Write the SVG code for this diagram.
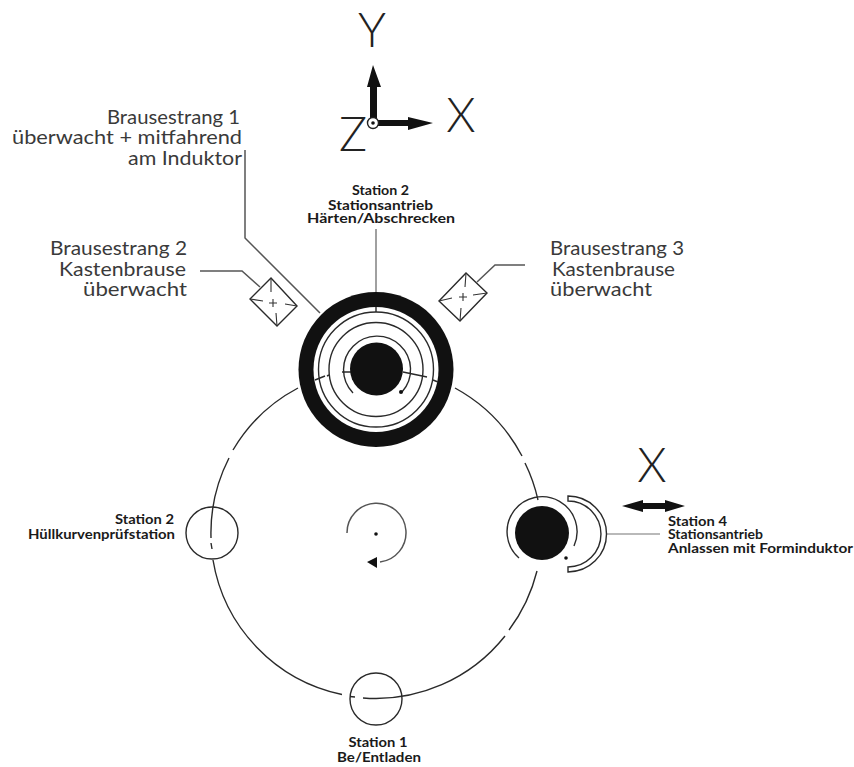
<svg xmlns="http://www.w3.org/2000/svg" width="854" height="767" viewBox="0 0 854 767">
<defs><style>
text{font-family:"Lato","Liberation Sans",sans-serif;fill:#3a3a3a}
.n{font-size:19px;text-anchor:end}
.s{text-anchor:start}
.b{font-size:14px;font-weight:700;fill:#1a1a1a}
.c{text-anchor:middle}
.e{text-anchor:end}
.a{font-size:47px;fill:#222;text-anchor:middle;font-family:"Lato","Liberation Sans",sans-serif;font-weight:300}
.l{fill:none;stroke:#333;stroke-width:1.1}
.t{fill:none;stroke:#2a2a2a;stroke-width:1.4}
.g{fill:none;stroke:#555;stroke-width:1.5}
.k{fill:#111}
</style></defs>
<rect width="854" height="767" fill="#fff"/>
<g id="connectors">
<path class="g" d="M245 150V238L320 313"/>
<path class="g" d="M200 271H242L260 287"/>
<path class="g" d="M376 229V292" stroke-opacity=".75"/>
<path class="g" d="M477 282L495 265H525"/>
<path class="g" d="M607 534H660" stroke-opacity=".55"/>
</g>
<g id="turntable">
<path class="t" d="M298 388A165 165 0 0 0 233 450M229 458A165 165 0 0 0 211 538M211 543L212 549M213 560A165 165 0 0 0 342 694.500M350 696.500L355 697M363 698A165 165 0 0 0 505 636M509 630A165 165 0 0 0 537 571M538 500A165 165 0 0 0 525 463M522 456A165 165 0 0 0 455 388"/>
</g>
<g id="station-2-top">
<circle class="k" cx="376" cy="369.500" r="77.500"/>
<circle cx="376" cy="369.500" r="62.500" fill="#fff"/>
<circle class="t" cx="376" cy="369.500" r="57.500"/>
<circle class="t" cx="376" cy="369.500" r="47"/>
<path class="t" d="M353 393A33.500 33.500 0 1 1 402 392M315 380L325 376M327 376L329 375M342 372L353 372M403 372L427 377M433 380L438 382M376 307V312"/>
<circle class="k" cx="376.500" cy="369" r="26.500"/>
<circle class="k" cx="401" cy="392" r="2"/>
</g>
<g id="brause-2"><path class="t" d="M250 299L271 278L297 306L277 326Z"/><path class="l" d="M250 299L263 301M297 306L285 304M271 278L271 292M277 326L276 313"/><path class="l" d="M269 303H277M273 299V307" stroke-width="1.500"/></g>
<g id="brause-3"><path class="t" d="M439 301L466 273L487 293L460 321Z"/><path class="l" d="M439 301L452 298M487 293L473 295M466 273L465 287M460 321L461 308"/><path class="l" d="M459 297H467M463 293V301" stroke-width="1.500"/></g>
<g id="center"><circle class="k" cx="376" cy="534" r="1.800"/><path class="g" d="M347 533A29.500 29.500 0 1 1 380 562"/><path class="k" d="M367 562L377 557V568Z"/></g>
<g id="station-2-left"><circle class="t" cx="212" cy="533" r="26"/></g>
<g id="station-1"><circle class="t" cx="376" cy="699" r="26"/></g>
<g id="station-4">
<circle class="k" cx="542" cy="533" r="27"/>
<path class="t" d="M519 558A35 35 0 1 1 574 546"/>
<circle class="k" cx="566" cy="558" r="1.800"/>
<path class="t" d="M568 496A38.500 38 0 0 1 568 572V567A33 33 0 0 0 568 501Z"/>
<path class="k" d="M622 506L643 500V503H665V500L685 506L665 512V509H643V512Z"/>
</g>
<g id="axes">
<path class="k" d="M370 123V87H367L373 65L381 87H377V123Z"/>
<path class="k" d="M377 120H408V117L433 123L408 130V126H377Z"/>
<circle cx="373" cy="123" r="5.500" fill="#fff" stroke="#222" stroke-width="1.400"/><circle class="k" cx="373" cy="123" r="1.800"/>
<text class="a" x="372" y="47">Y</text><text class="a" x="461" y="132">X</text><text class="a" x="353" y="151">Z</text><text class="a" x="652" y="482">X</text>
</g>
<g id="labels">
<text class="n" x="240" y="124" textLength="133" lengthAdjust="spacingAndGlyphs">Brausestrang 1</text><text class="n" x="242" y="144" textLength="230" lengthAdjust="spacingAndGlyphs">überwacht + mitfahrend</text><text class="n" x="242" y="165" textLength="114" lengthAdjust="spacingAndGlyphs">am Induktor</text>
<text class="n" x="187" y="255" textLength="137" lengthAdjust="spacingAndGlyphs">Brausestrang 2</text><text class="n" x="186" y="276" textLength="127" lengthAdjust="spacingAndGlyphs">Kastenbrause</text><text class="n" x="187" y="296" textLength="104" lengthAdjust="spacingAndGlyphs">überwacht</text>
<text class="n s" x="550" y="255" textLength="134" lengthAdjust="spacingAndGlyphs">Brausestrang 3</text><text class="n s" x="552" y="276" textLength="123" lengthAdjust="spacingAndGlyphs">Kastenbrause</text><text class="n s" x="550" y="296" textLength="102" lengthAdjust="spacingAndGlyphs">überwacht</text>
<text class="b c" x="380.500" y="195" textLength="57" lengthAdjust="spacingAndGlyphs">Station 2</text><text class="b c" x="380.500" y="210" textLength="105" lengthAdjust="spacingAndGlyphs">Stationsantrieb</text><text class="b c" x="381" y="223" textLength="148" lengthAdjust="spacingAndGlyphs">Härten/Abschrecken</text>
<text class="b e" x="174" y="524" textLength="59" lengthAdjust="spacingAndGlyphs">Station 2</text><text class="b e" x="175" y="539" textLength="147" lengthAdjust="spacingAndGlyphs">Hüllkurvenprüfstation</text>
<text class="b s" x="668" y="526" textLength="59" lengthAdjust="spacingAndGlyphs">Station 4</text><text class="b s" x="668" y="539" textLength="95" lengthAdjust="spacingAndGlyphs">Stationsantrieb</text><text class="b s" x="668" y="553" textLength="185" lengthAdjust="spacingAndGlyphs">Anlassen mit Forminduktor</text>
<text class="b c" x="378" y="747" textLength="59" lengthAdjust="spacingAndGlyphs">Station 1</text><text class="b c" x="379" y="762" textLength="84" lengthAdjust="spacingAndGlyphs">Be/Entladen</text>
</g>
</svg>
